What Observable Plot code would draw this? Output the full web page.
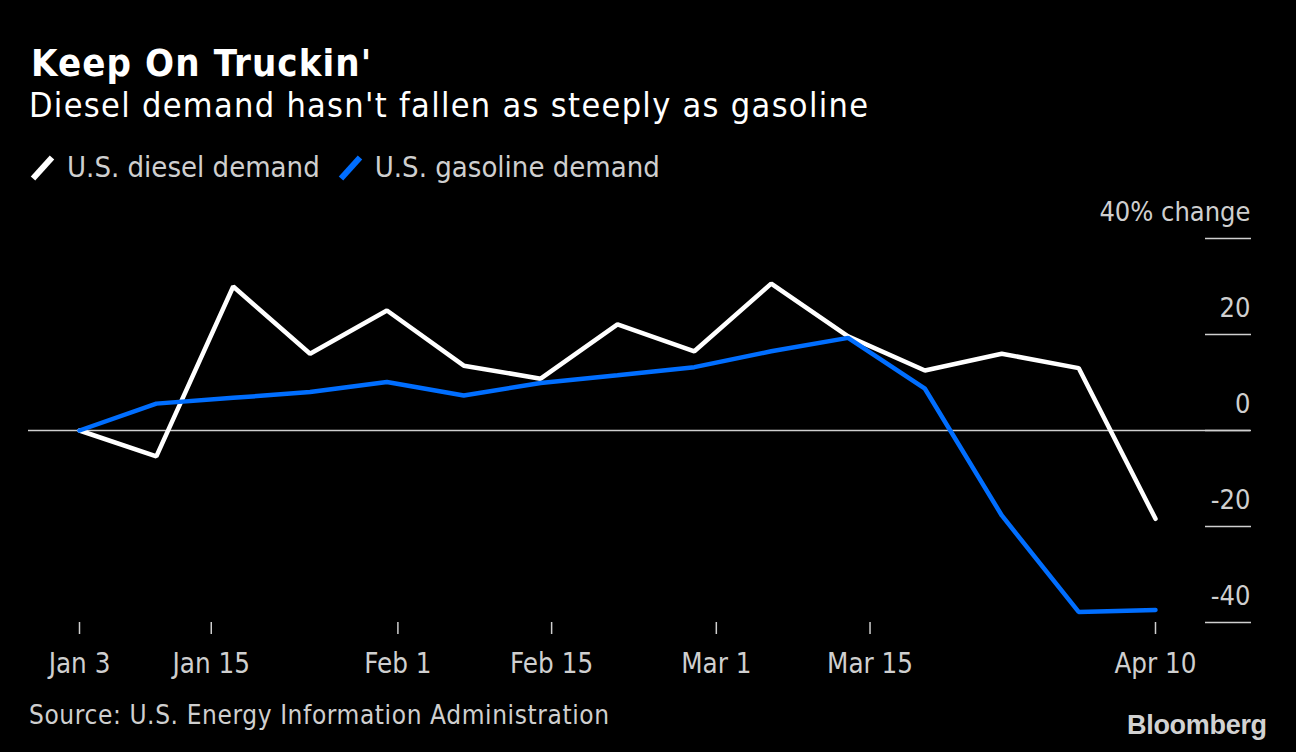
<!DOCTYPE html>
<html>
<head>
<meta charset="utf-8">
<script src="https://cdn.jsdelivr.net/npm/d3@7"></script>
<script src="https://cdn.jsdelivr.net/npm/@observablehq/plot@0.6"></script>
<style>
  html, body { margin: 0; padding: 0; background: #000; }
  #wrap { position: relative; width: 1296px; height: 752px; background: #000; overflow: hidden;
          font-family: "DejaVu Sans Condensed", "DejaVu Sans", sans-serif; }
  .abs { position: absolute; white-space: nowrap; line-height: 1; }
  #title { left: 31px; top: 44px; font-family: "DejaVu Sans Condensed", "DejaVu Sans", sans-serif;
           font-weight: bold; font-size: 38px; color: #fff; letter-spacing: 1.1px; }
  #subtitle { left: 29px; top: 88px; font-size: 34px; color: #fff; letter-spacing: 1.3px; }
  #legend { left: 30px; top: 153px; font-size: 29px; color: #cfcfcf; display: flex; align-items: center; }
  #legend .item { display: flex; align-items: center; margin-right: 18px; }
  #legend svg { margin-right: 11px; }
  #chart { position: absolute; left: 0; top: 190px; }
  #source { left: 29px; top: 702px; font-size: 26px; color: #cfcfcf; letter-spacing: 0.6px; }
  #logo { left: 1127px; top: 712px; font-family: "Liberation Sans", Arial, sans-serif; font-weight: bold;
          font-size: 27px; color: #d2d2d2; letter-spacing: -0.3px; }
</style>
</head>
<body>
<div id="wrap">
  <div id="title" class="abs">Keep On Truckin'</div>
  <div id="subtitle" class="abs">Diesel demand hasn't fallen as steeply as gasoline</div>
  <div id="legend" class="abs"></div>
  <div id="chart"></div>
  <div id="source" class="abs">Source: U.S. Energy Information Administration</div>
  <div id="logo" class="abs">Bloomberg</div>
</div>
<script>
// ---- data (weekly, 2020) ----
const weeks = ["2020-01-03","2020-01-10","2020-01-17","2020-01-24","2020-01-31","2020-02-07","2020-02-14",
               "2020-02-21","2020-02-28","2020-03-06","2020-03-13","2020-03-20","2020-03-27","2020-04-03","2020-04-10"];
const diesel   = [0, -5.4, 30.0, 16.0, 25.0, 13.5, 10.8, 22.1, 16.5, 30.6, 19.6, 12.5, 16.0, 13.0, -18.4];
const gasoline = [0,  5.6,  6.8,  8.0, 10.1,  7.3,  9.9, 11.5, 13.2, 16.5, 19.3,  8.7, -17.7, -37.8, -37.4];
const seriesNames = ["U.S. diesel demand", "U.S. gasoline demand"];
const seriesColors = ["#ffffff", "#006eff"];
const xTickDates = ["2020-01-03","2020-01-15","2020-02-01","2020-02-15","2020-03-01","2020-03-15","2020-04-10"];
const xTickLabels = ["Jan 3","Jan 15","Feb 1","Feb 15","Mar 1","Mar 15","Apr 10"];
const yTicks = [-40, -20, 0, 20, 40];
const yTickLabels = ["-40", "-20", "0", "20", "40% change"];

const parse = d3.utcParse("%Y-%m-%d");
const rows = [];
weeks.forEach((w, i) => {
  rows.push({date: parse(w), value: diesel[i], series: seriesNames[0]});
  rows.push({date: parse(w), value: gasoline[i], series: seriesNames[1]});
});
const tickDates = xTickDates.map(parse);
const labelFor = new Map(tickDates.map((d, i) => [+d, xTickLabels[i]]));
const yLabelFor = new Map(yTicks.map((v, i) => [v, yTickLabels[i]]));

// ---- legend ----
const legend = document.getElementById("legend");
seriesNames.forEach((name, i) => {
  const item = document.createElement("div");
  item.className = "item";
  item.innerHTML = `<svg width="26" height="26" viewBox="0 0 26 26"><line x1="3" y1="23.5" x2="22" y2="2.5" stroke="${seriesColors[i]}" stroke-width="6"/></svg><span>${name}</span>`;
  legend.appendChild(item);
});

const axisColor = "#cfcfcf";
const fontFamily = '"DejaVu Sans Condensed", "DejaVu Sans", sans-serif';

const chart = Plot.plot({
  width: 1296,
  height: 500,
  marginTop: 48,
  marginBottom: 68,
  marginLeft: 28,
  marginRight: 46,
  style: {background: "#000", color: axisColor, fontFamily, fontSize: "27px", overflow: "visible"},
  x: {type: "utc", domain: [parse(weeks[0]), parse(weeks[weeks.length - 1])], insetLeft: 51, insetRight: 95, label: null},
  y: {domain: [-40, 40], label: null},
  color: {domain: seriesNames, range: seriesColors},
  marks: [
    Plot.axisX({ticks: tickDates, tickSize: 12, tickPadding: 19, stroke: axisColor, strokeWidth: 1.5, label: null,
                tickFormat: d => labelFor.get(+d), fill: axisColor, fontSize: 27.5}),
    Plot.axisY({anchor: "right", ticks: yTicks, tickSize: -46, tickFormat: () => "", label: null,
                stroke: axisColor, strokeWidth: 1.5}),
    Plot.axisY({anchor: "right", ticks: yTicks, tickSize: 0, tickPadding: 0, textAnchor: "end", dy: -26, label: null,
                tickFormat: v => yLabelFor.get(v), fill: axisColor, fontSize: 27}),
    Plot.ruleY([0], {stroke: axisColor, strokeWidth: 1.5}),
    Plot.lineY(rows, {x: "date", y: "value", z: "series", stroke: "series", strokeWidth: 4.5,
                      strokeLinejoin: "miter", strokeLinecap: "round"})
  ]
});
document.getElementById("chart").appendChild(chart);
</script>
</body>
</html>
